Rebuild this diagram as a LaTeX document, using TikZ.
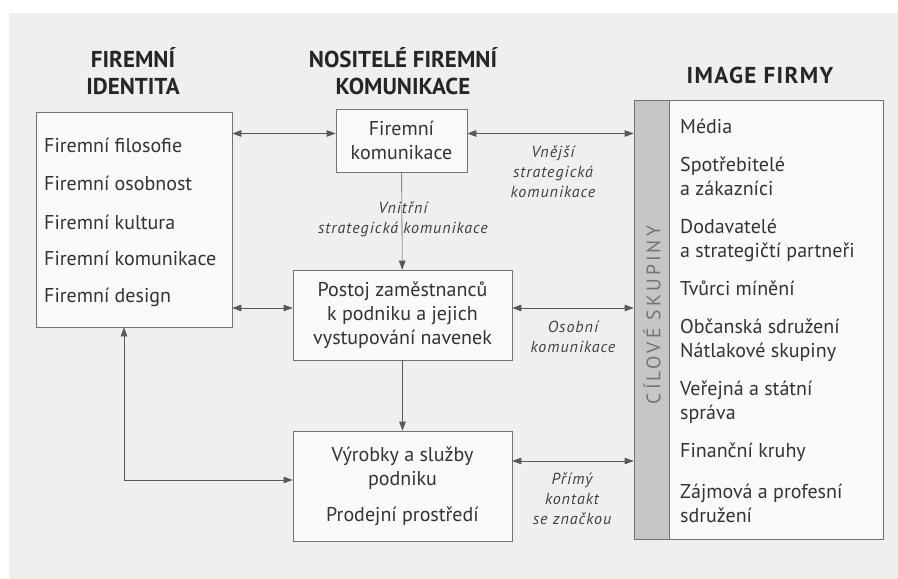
\documentclass[tikz,border=0pt]{standalone}
\usepackage{fontspec}
\setmainfont{PT Sans}
\usetikzlibrary{arrows.meta}
\definecolor{page}{HTML}{EFEFEF}
\definecolor{band}{HTML}{C6C6C6}

\begin{document}
\begin{tikzpicture}[x=1pt,y=-1pt,
  box/.style={draw=black!55,fill=black!2,line width=0.6pt,inner sep=0pt,font=\fontsize{20}{24}\selectfont,text=black!80,align=center},
  head/.style={font=\bfseries\fontsize{23}{27}\selectfont,text=black!85,align=center},
  item/.style={anchor=west,font=\fontsize{20}{24}\selectfont,text=black!80,align=left,inner sep=0pt},
  note/.style={font=\itshape\fontsize{16}{20}\selectfont\addfontfeature{LetterSpace=6},text=black!75,align=center,inner sep=0pt},
  link/.style={black!65,line width=0.6pt,{Triangle[length=9pt,width=6.5pt]}-{Triangle[length=9pt,width=6.5pt]}},
  one/.style={black!65,line width=0.6pt,-{Triangle[length=9pt,width=6.5pt]}}]
\useasboundingbox (0,0) rectangle (898,579);
\fill[white] (0,0) rectangle (898,579);
\fill[page] (9,13) rectangle (898,579);
% column titles
\node[head] (tid) at (133,71) {FIREMNÍ\\IDENTITA};
\node[head] (tnos) at (403,71) {NOSITELÉ FIREMNÍ\\KOMUNIKACE};
\node[head,font=\bfseries\fontsize{23}{27}\selectfont\addfontfeature{LetterSpace=6}] (timg) at (760,75) {IMAGE FIRMY};
% firemni identita
\node[box,minimum width=196,minimum height=215] (idbox) at (134,219.5) {};
\foreach \txt/\yy [count=\i] in {Firemní filosofie/145,Firemní osobnost/183,Firemní kultura/222,Firemní komunikace/258,Firemní design/297}
  \node[item] (id\i) at (44,\yy) {\txt};
% nositele
\node[box,minimum width=131,minimum height=63] (fk) at (401.5,140.5) {Firemní\\komunikace};
\node[box,minimum width=219,minimum height=90] (post) at (402.5,315) {Postoj zaměstnanců\\k podniku a jejich\\vystupování navenek};
\node[box,minimum width=219,minimum height=110] (vyr) at (402.5,486) {Výrobky a služby\\podniku\\[12pt]Prodejní prostředí};
% image firmy
\node[box,minimum width=249,minimum height=439] (img) at (758.5,319.5) {};
\node[draw=black!55,fill=band,line width=0.6pt,minimum width=35,minimum height=439,inner sep=0pt] (band) at (651.5,319.5) {};
\node[rotate=90,text=black!55,font=\fontsize{19.5}{19.5}\selectfont\addfontfeature{LetterSpace=16}] (cil) at (652,315) {CÍLOVÉ SKUPINY};
\foreach \txt/\yy [count=\i] in {Média/126,Spotřebitelé\\a zákazníci/176,Dodavatelé\\a strategičtí partneři/240,Tvůrci mínění/288,Občanská sdružení\\Nátlakové skupiny/340,Veřejná a státní\\správa/402,Finanční kruhy/452,Zájmová a profesní\\sdružení/503}
  \node[item] (cs\i) at (680,\yy) {\txt};
% vazby
\draw[link] ([yshift=7]fk.west) -- ([yshift=7]fk.west -| idbox.east);
\draw[link] ([yshift=7]fk.east) -- ([yshift=7]fk.east -| img.west);
\draw[link] ([yshift=7]post.west) -- ([yshift=7]post.west -| idbox.east);
\draw[link] ([yshift=7]post.east) -- ([yshift=7]post.east -| img.west);
\draw[link] ([yshift=25]vyr.east) -- ([yshift=25]vyr.east -| img.west);
\draw[link] ([xshift=-10]idbox.south) |- ([yshift=6]vyr.west);
\draw[one] (fk) -- (post);
\draw[one] (post) -- (vyr);
% popisky
\node[note] (lvni) at (403,219) {Vnitřní\\strategická komunikace};
\node[note] (lvne) at (553,172) {Vnější\\strategická\\komunikace};
\node[note] (losb) at (573,337) {Osobní\\komunikace};
\node[note] (lpri) at (572,499) {Přímý\\kontakt\\se značkou};
\end{tikzpicture}
\end{document}
